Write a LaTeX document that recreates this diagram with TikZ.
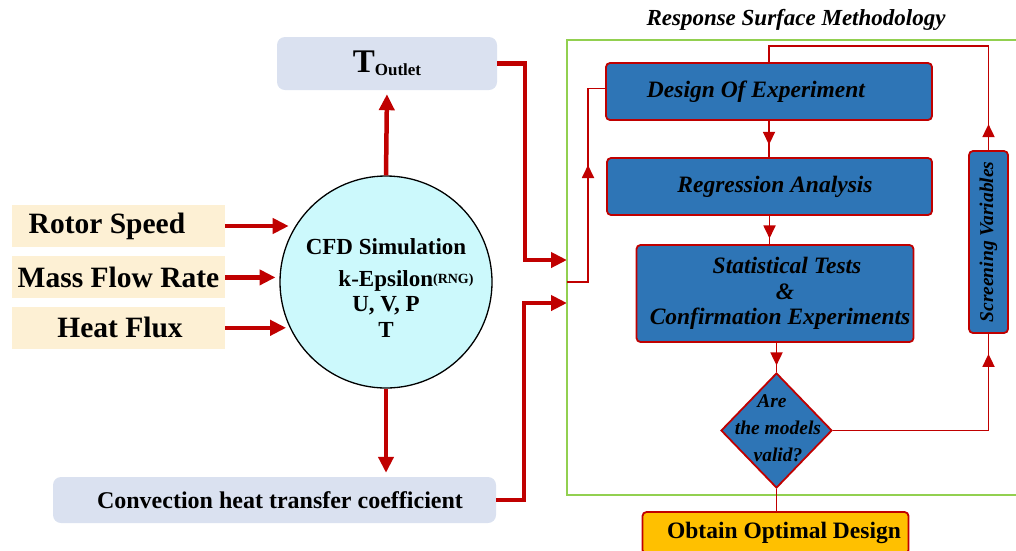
\documentclass[tikz,border=0pt]{standalone}
\usepackage{fontspec}
\setmainfont{Liberation Serif}
\usepackage{xcolor}
\usepackage{graphicx}
\usepackage{tikz}
\usetikzlibrary{calc, positioning, shapes.geometric, arrows.meta, decorations.markings}

\definecolor{darkred}{RGB}{192,0,0}
\definecolor{rsmblue}{RGB}{46,117,182}
\definecolor{inbeige}{RGB}{253,240,212}
\definecolor{outgrey}{RGB}{218,225,240}
\definecolor{cfdcyan}{RGB}{204,249,252}
\definecolor{rsmgreen}{RGB}{146,208,80}
\definecolor{optorange}{RGB}{255,192,0}

\newcommand{\setfs}[1]{\fontsize{#1}{#1}\selectfont}

\begin{document}
\begin{tikzpicture}[x=1pt, y=-1pt, >={Triangle[length=16pt, width=15pt]},
		inbox/.style={fill=inbeige, minimum width=213pt, minimum height=42pt,
			inner sep=0pt, font=\setfs{29.5}\bfseries},
		outbox/.style={fill=outgrey, rounded corners=8pt, inner sep=0pt, font=\bfseries},
		flowbox/.style={fill=rsmblue, draw=darkred, line width=1.8pt, rounded corners=4pt,
			inner sep=0pt, font=\setfs{23.5}\bfseries\itshape},
		thickarrow/.style={->, darkred, line width=4.5pt, shorten >=4pt},
		thinline/.style={darkred, line width=1.8pt},
		midarrow/.style={postaction={decorate}, decoration={markings,
			mark=at position #1 with {\arrow{Triangle[length=13pt, width=12pt]}}}}]
		\useasboundingbox (0,0) rectangle (1016,550);

		\node[inbox] (rotor) at (118.5,226) {\hspace*{-23pt}Rotor Speed};
		\node[inbox, below=9pt of rotor] (mass) {Mass Flow Rate};
		\node[inbox, below=8pt of mass] (heat) {\hspace*{3pt}Heat Flux};

		\node[circle, draw, line width=1.3pt, fill=cfdcyan, minimum size=212pt, inner sep=0pt] (cfd)
			at (386,282) {};
		\node[font=\fontsize{23}{25.5}\selectfont\bfseries, align=center, yshift=-6pt] (cfdtxt) at (cfd)
			{CFD Simulation\\[6pt]\hspace*{40pt}k-Epsilon\raisebox{3pt}{\setfs{14}(RNG)}\\U, V, P\\T};

		\node[outbox, minimum width=220pt, minimum height=53pt] (tout) at (387,63.5)
			{\setfs{33}T\raisebox{-3pt}{\setfs{17}Outlet}};
		\node[outbox, minimum width=443pt, minimum height=46pt, font=\setfs{24}\bfseries] (conv)
			at (274.5,500) {\hspace*{11pt}Convection heat transfer coefficient};

		\draw[thickarrow] (rotor.east) -- (cfd.151 |- rotor.east);
		\draw[thickarrow] (mass.east) -- (cfd.177 |- mass.east);
		\draw[thickarrow] (heat.east) -- (cfd.206 |- heat.east);
		\draw[thickarrow] (cfd.north) -- (tout.south);
		\draw[thickarrow] (cfd.south) -- (cfd.south |- conv.north);

		\coordinate (in1) at (567,260);
		\coordinate (in2) at (567,303);
		\coordinate (join) at (567,282);

		\draw[thickarrow, shorten >=0pt] (tout.east) -| ([xshift=-42pt]in1) -- (in1);
		\draw[thickarrow, shorten >=0pt] (conv.east) -| ([xshift=-43pt]in2) -- (in2);

		\draw[rsmgreen, line width=2pt] (1020,40) -| (567,495) -- (1020,495);
		\node[font=\setfs{23}\bfseries\itshape] (title) at (796,20) {Response Surface Methodology};

		\node[flowbox, minimum width=326pt, minimum height=57pt] (doe) at (769,91.5)
			{\hspace*{-26pt}Design Of Experiment};
		\node[flowbox, minimum width=325pt, minimum height=57pt] (reg) at (769.5,186.5)
			{\hspace*{11pt}Regression Analysis};
		\node[flowbox, minimum width=277pt, minimum height=97pt, align=center,
			font=\fontsize{23.5}{25.5}\selectfont\bfseries\itshape] (stat) at (775,293.5)
			{\hspace*{24pt}Statistical Tests\\\hspace*{20pt}\&\\\hspace*{10pt}Confirmation Experiments};
		\node[diamond, fill=rsmblue, draw=darkred, line width=1.8pt, minimum width=111pt,
			minimum height=115pt, inner sep=0pt] (valid) at (776.5,430.5) {};
		\node[font=\fontsize{19.5}{27}\selectfont\bfseries\itshape, align=center] (validtxt)
			at (778,428) {\hspace*{-12pt}Are\\the models\\valid?};
		\node[flowbox, minimum width=39pt, minimum height=182pt, font=\setfs{19.5}\bfseries\itshape]
			(screen) at (988.5,242) {\rotatebox{90}{Screening Variables}};
		\node[fill=optorange, draw=darkred, line width=1.8pt, rounded corners=4pt, minimum width=266pt,
			minimum height=42pt, font=\setfs{23.5}\bfseries] (opt) at (775.5,533)
			{\hspace*{17pt}Obtain Optimal Design};

		\draw[thinline, midarrow=0.66] (doe.south) -- (doe.south |- reg.north);
		\draw[thinline, midarrow=0.8] (reg.south) -- (reg.south |- stat.north);
		\draw[thinline, midarrow=0.77] (stat.south -| valid.north) -- (valid.north);
		\draw[thinline] (valid.south) -- (valid.south |- opt.north);
		\draw[thinline, midarrow=-20pt] (valid.east) -| (screen.south);
		\draw[thinline, midarrow=26pt] (screen.north) |- ([yshift=16pt]doe.north) -- (doe.north);
		\draw[thinline, midarrow=138pt] (join) -- ++(21,0) |- ([yshift=3pt]doe.west);
	\end{tikzpicture}
\end{document}
